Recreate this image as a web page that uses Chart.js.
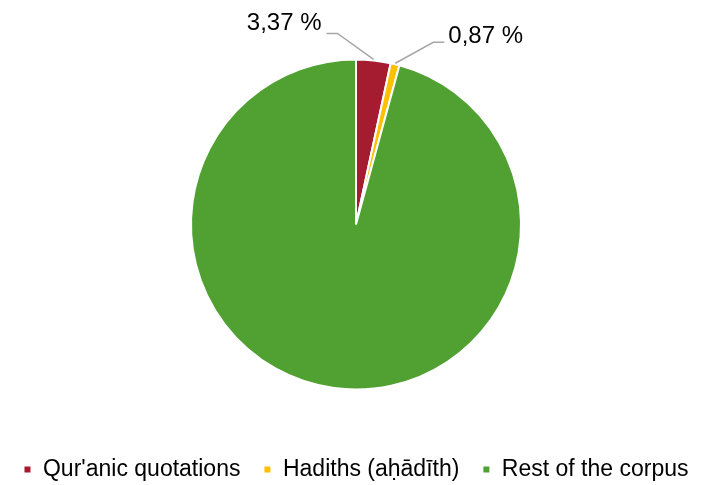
<!DOCTYPE html>
<html>
<head>
<meta charset="utf-8">
<script src="https://cdn.jsdelivr.net/npm/chart.js@4/dist/chart.umd.min.js"></script>
<style>
  html, body { margin: 0; padding: 0; background: #fff; }
  #wrap { width: 712px; height: 485px; }
</style>
</head>
<body>
<div id="wrap"><canvas id="grafico"></canvas></div>
<script>
const categorias = ["Qur'anic quotations", "Hadiths (aḥādīth)", "Rest of the corpus"];
const valores = [3.37, 0.87, 95.76];
const etiquetas = ["3,37 %", "0,87 %", null];
const colores = ['#A51B30', '#FFC000', '#50A032'];

// leader line shape per labelled slice: elbow offset from the anchor, then horizontal run
const lineas = [
    { dx: -36, dy: -26, run: -11 },
    { dx: 38, dy: -21, run: 11 },
    null
];

const pluginEtiquetas = {
    id: 'etiquetas',
    afterDatasetsDraw(chart) {
        const ctx = chart.ctx;
        const meta = chart.getDatasetMeta(0);
        meta.data.forEach((arc, i) => {
            if (!etiquetas[i] || !lineas[i]) return;
            const p = arc.getProps(['x', 'y', 'startAngle', 'endAngle', 'outerRadius'], true);
            const mid = (p.startAngle + p.endAngle) / 2;
            const ax = p.x + Math.cos(mid) * (p.outerRadius + 1);
            const ay = p.y + Math.sin(mid) * (p.outerRadius + 1);
            const ex = ax + lineas[i].dx;
            const ey = ay + lineas[i].dy;
            const hx = ex + lineas[i].run;
            ctx.save();
            ctx.strokeStyle = '#A6A6A6';
            ctx.lineWidth = 1.5;
            ctx.beginPath();
            ctx.moveTo(ax, ay);
            ctx.lineTo(ex, ey);
            ctx.lineTo(hx, ey);
            ctx.stroke();
            ctx.fillStyle = '#000';
            ctx.font = '24px "Liberation Sans", Arial, sans-serif';
            ctx.textBaseline = 'middle';
            if (lineas[i].run < 0) {
                ctx.textAlign = 'right';
                ctx.fillText(etiquetas[i], hx - 5, ey - 10);
            } else {
                ctx.textAlign = 'left';
                ctx.fillText(etiquetas[i], hx + 4, ey - 6);
            }
            ctx.restore();
        });
    }
};

new Chart(document.getElementById('grafico').getContext('2d'), {
    type: 'pie',
    data: {
        labels: categorias,
        datasets: [{
            data: valores,
            backgroundColor: colores,
            borderColor: '#fff',
            borderWidth: 2
        }]
    },
    options: {
        responsive: true,
        maintainAspectRatio: false,
        animation: false,
        radius: 165,
        layout: { padding: { top: 14, bottom: -6 } },
        plugins: {
            tooltip: { enabled: false },
            legend: {
                position: 'bottom',
                labels: {
                    boxWidth: 8,
                    boxHeight: 8,
                    padding: 23,
                    color: '#000',
                    font: { size: 23, family: '"Liberation Sans", Arial, sans-serif' }
                }
            }
        }
    },
    plugins: [pluginEtiquetas]
});
</script>
</body>
</html>
